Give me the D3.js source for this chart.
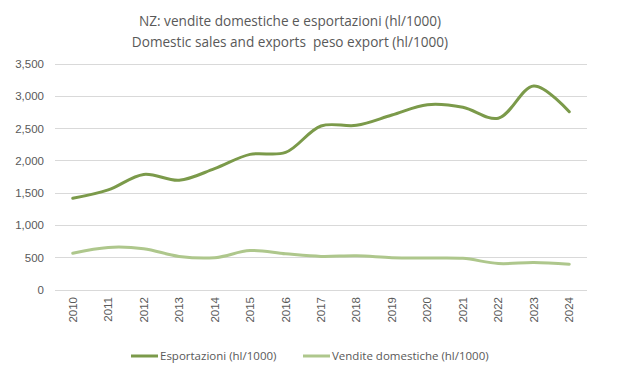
<!DOCTYPE html>
<html><head><meta charset="utf-8">
<script src="https://cdn.jsdelivr.net/npm/d3@7"></script>
<style>body{margin:0;background:#fff}svg{display:block}</style>
</head><body><svg id="c" width="619" height="378"></svg>
<script>
const years = ["2010","2011","2012","2013","2014","2015","2016","2017","2018","2019","2020","2021","2022","2023","2024"];
const esportazioni = [1420,1550,1790,1700,1880,2100,2130,2540,2550,2710,2870,2830,2660,3160,2760];
const vendite = [570,660,640,520,500,610,560,520,530,500,495,490,410,425,400];
const yTicks = [0,500,1000,1500,2000,2500,3000,3500];
const titleLines = ["NZ: vendite domestiche e esportazioni (hl/1000)","Domestic sales and exports  peso export (hl/1000)"];
const seriesNames = ["Esportazioni (hl/1000)","Vendite domestiche (hl/1000)"];
const colors = ["#7b9a4a","#aec78c"];

const svg = d3.select("#c");
const font = "'Open Sans', 'Liberation Sans', sans-serif";
const x = d3.scaleBand().domain(years).range([55,587]);
const y = d3.scaleLinear().domain([0,3500]).range([290,64]);

svg.append("g").selectAll("text").data(titleLines).join("text")
  .attr("x",290).attr("y",(d,i)=>26+i*21).attr("text-anchor","middle")
  .attr("font-family",font).attr("font-size",13.6).attr("fill","#595959")
  .attr("xml:space","preserve").style("white-space","pre").text(d=>d);

svg.append("g").selectAll("line").data(yTicks).join("line")
  .attr("x1",55).attr("x2",587).attr("y1",d=>y(d)).attr("y2",d=>y(d))
  .attr("stroke","#d9d9d9").attr("stroke-width",1).attr("shape-rendering","crispEdges");

svg.append("g").selectAll("text").data(yTicks).join("text")
  .attr("x",44).attr("y",d=>y(d)+4).attr("text-anchor","end")
  .attr("font-family","'Liberation Sans', Arial, sans-serif").attr("font-size",11.5).attr("fill","#595959")
  .text(d=>d3.format(",")(d));

svg.append("g").selectAll("text").data(years).join("text")
  .attr("transform",d=>`translate(${x(d)+x.bandwidth()/2+4},297) rotate(-90)`)
  .attr("text-anchor","end")
  .attr("font-family","'Liberation Sans', Arial, sans-serif").attr("font-size",11.5).attr("fill","#595959")
  .text(d=>d);

const line = d3.line().x((d,i)=>x(years[i])+x.bandwidth()/2).y(d=>y(d)).curve(d3.curveCatmullRom.alpha(0.5));
[esportazioni,vendite].forEach((s,k)=>{
  svg.append("path").attr("d",line(s)).attr("fill","none").attr("stroke",colors[k])
    .attr("stroke-width",3).attr("stroke-linecap","round").attr("stroke-linejoin","round");
});

const lx = [131,303];
seriesNames.forEach((n,k)=>{
  svg.append("line").attr("x1",lx[k]).attr("x2",lx[k]+27).attr("y1",356).attr("y2",356)
    .attr("stroke",colors[k]).attr("stroke-width",3);
  svg.append("text").attr("x",lx[k]+29).attr("y",360).attr("font-family",font)
    .attr("font-size",11.5).attr("fill","#595959").text(n);
});
</script></body></html>
